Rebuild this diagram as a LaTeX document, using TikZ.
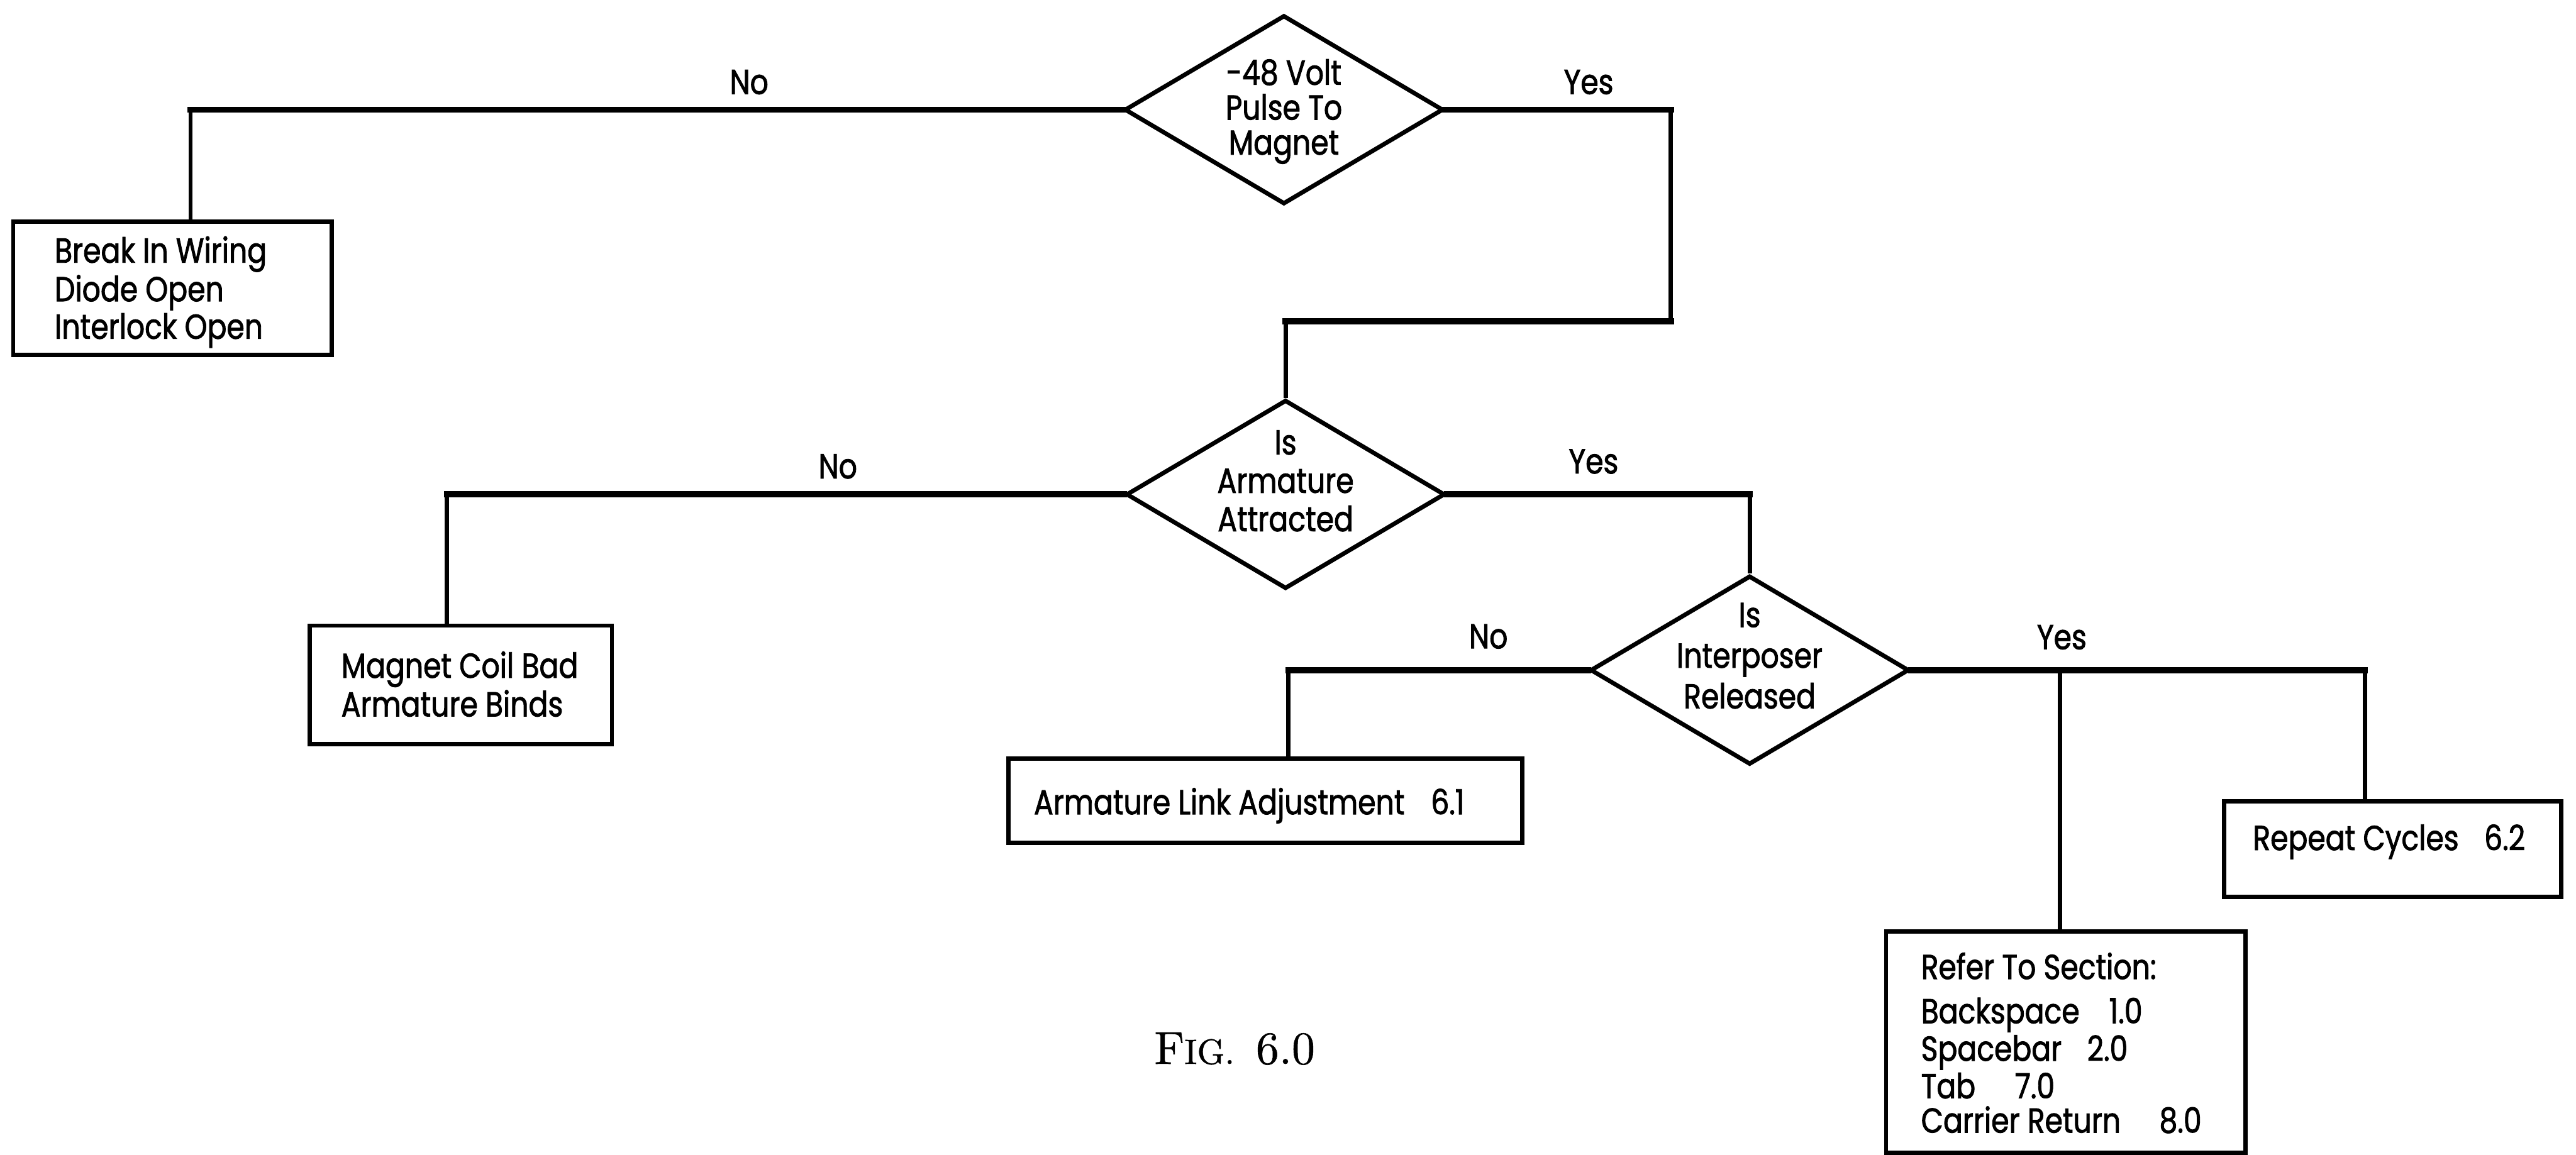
\documentclass[tikz,border=0pt]{standalone}
\usepackage{fontspec}
\setsansfont{Poppins}[FakeStretch=0.83, FakeBold=1.6]
\newfontfamily\capfont{lmroman10-regular}[Extension=.otf, FakeBold=0.8]
\usetikzlibrary{shapes.geometric}

\begin{document}
\begin{tikzpicture}[x=0.02cm, y=-0.02cm,
  txt/.style={font=\sffamily\fontsize{12pt}{12pt}\selectfont, inner sep=0pt},
  decision/.style={shape=diamond, draw, line width=1.5pt, minimum width=3.88cm,
    minimum height=2.3cm, inner sep=0pt},
  qtext/.style={txt, align=center},
  result/.style={draw, line width=1.5pt, inner sep=0pt},
  rtext/.style={txt, align=left, anchor=west},
  answer/.style={txt},
  vline/.style={line width=1.5pt},
  hline/.style={line width=2.1pt, line cap=rect}]

\useasboundingbox (0,0) rectangle (1568,703);

% decisions
\node[decision] (d1) at (781.5,66.8) {};
\node[qtext, font=\sffamily\fontsize{12pt}{12.1pt}\selectfont] (d1t) at (781.5,67.9) {-48 Volt\\Pulse To\\Magnet};
\node[decision] (d2) at (782.5,301) {};
\node[qtext, font=\sffamily\fontsize{12pt}{13.3pt}\selectfont] (d2t) at (782.5,292.8) {Is\\Armature\\Attracted};
\node[decision] (d3) at (1065,408) {};
\node[qtext, font=\sffamily\fontsize{12pt}{14.1pt}\selectfont] (d3t) at (1065,399.3) {Is\\Interposer\\Released};

% results
\node[result, minimum width=3.88cm, minimum height=1.62cm] (b1) at (105,175.5) {};
\node[rtext, font=\sffamily\fontsize{12pt}{11.6pt}\selectfont] (b1t) at (33,177.8) {Break In Wiring\\Diode Open\\Interlock Open};

\node[result, minimum width=3.68cm, minimum height=1.44cm] (b2) at (280.5,416.9) {};
\node[rtext, font=\sffamily\fontsize{12pt}{12pt}\selectfont] (b2t) at (207.4,416.5) {Magnet Coil Bad\\Armature Binds};

\node[result, minimum width=6.25cm, minimum height=1.02cm] (b3) at (770.2,487.5) {};
\node[rtext] (b3t) at (629,490.5) {Armature Link Adjustment\hspace{0.32cm}6.1};

\node[result, minimum width=4.11cm, minimum height=1.16cm] (b4) at (1456.4,517) {};
\node[rtext] (b4t) at (1371,512.5) {Repeat Cycles\hspace{0.31cm}6.2};

\node[result, minimum width=4.38cm, minimum height=2.7cm] (b5) at (1257.5,634.5) {};
\node[rtext, font=\sffamily\fontsize{12pt}{11.9pt}\selectfont] (b5t) at (1169,635)
  {Refer To Section:\\[0.12cm]Backspace\hspace{0.36cm}1.0\\Spacebar\hspace{0.31cm}2.0\\Tab\hspace{0.48cm}7.0\\Carrier Return\hspace{0.47cm}8.0};

% drop points into the result boxes
\coordinate (b1in) at ([xshift=0.22cm]b1.north);
\coordinate (b2in) at ([xshift=-0.17cm]b2.north);
\coordinate (b3in) at ([xshift=0.28cm]b3.north);
\coordinate (b4in) at ([xshift=-0.34cm]b4.north);
\coordinate (b5in) at ([xshift=-0.07cm]b5.north);
\coordinate (j1) at (1017,195.5);

% connectors
\draw[vline] (d1.west) -| (b1in);
\draw[hline] (d1.west) -- (d1.west -| b1in);
\draw[vline] (d1.east) -| (j1) -| (d2.north);
\draw[hline] (d1.east) -- (d1.east -| j1);
\draw[hline] (j1) -- (j1 -| d2.north);
\draw[vline] (d2.west) -| (b2in);
\draw[hline] (d2.west) -- (d2.west -| b2in);
\draw[vline] (d2.east) -| (d3.north);
\draw[hline] (d2.east) -- (d2.east -| d3.north);
\draw[vline] (d3.west) -| (b3in);
\draw[hline] (d3.west) -- (d3.west -| b3in);
\draw[vline] (d3.east) -| (b4in);
\draw[hline] (d3.east) -- (d3.east -| b4in);
\draw[vline] (b5in) -- (b5in |- d3.east);

% branch labels
\node[answer] (no1) at (456,50) {No};
\node[answer] (yes1) at (967,50) {Yes};
\node[answer] (no2) at (510,284) {No};
\node[answer] (yes2) at (970,281) {Yes};
\node[answer] (no3) at (906,387.5) {No};
\node[answer] (yes3) at (1255,388) {Yes};

% caption, with hand-made small capitals
\node[font=\capfont\fontsize{16pt}{18pt}\selectfont, inner sep=0pt] (cap) at (751.5,638.5)
  {F{\fontsize{12.2pt}{14pt}\selectfont IG.}\hspace{0.26cm}6.0};
\end{tikzpicture}
\end{document}
